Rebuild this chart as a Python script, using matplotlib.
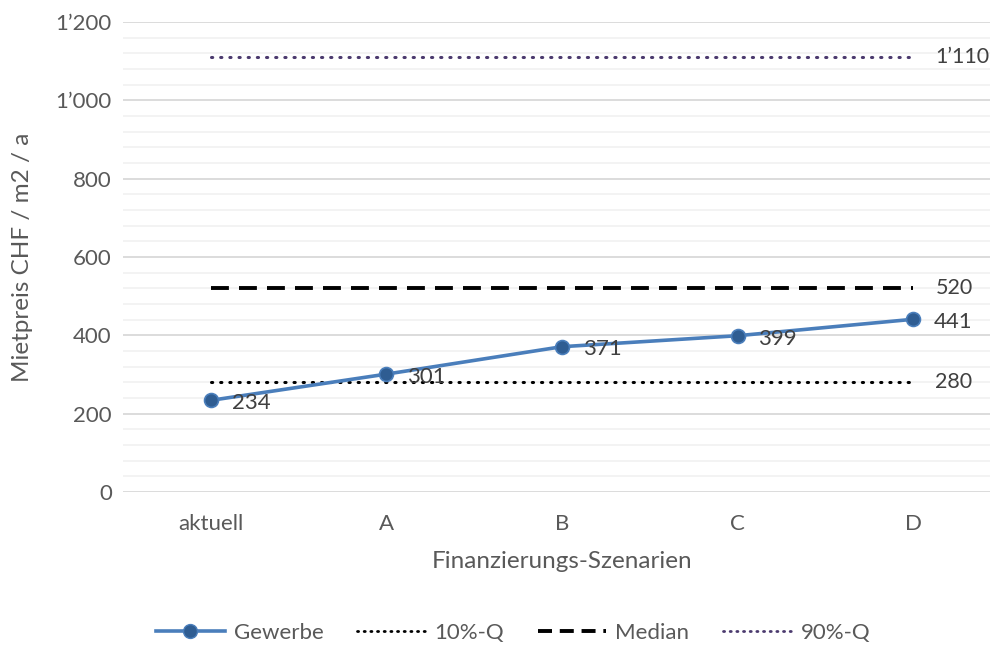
import matplotlib
matplotlib.use("Agg")
import matplotlib.pyplot as plt
from matplotlib.lines import Line2D
from matplotlib.ticker import MultipleLocator, FuncFormatter

# Scenarios and rent values (CHF / m2 / a)
szenarien = ["aktuell", "A", "B", "C", "D"]
gewerbe = [234, 301, 371, 399, 441]
q10 = 280
median = 520
q90 = 1110

text_color = "#595959"
label_color = "#404040"
line_blue = "#4A7EBB"
marker_blue = "#2F5D92"
purple = "#4B3A6E"

dotted = (0, (0.4, 2.6))
dashed = (0, (4.6, 2.6))

plt.rcParams["font.family"] = ["Lato", "DejaVu Sans"]

fig = plt.figure(figsize=(9.9, 6.48), dpi=100)
ax = fig.add_axes([123 / 990, (648 - 492) / 648, 878 / 990, 470 / 648])

x = list(range(len(szenarien)))

# reference lines spanning the category range
ax.plot([x[0], x[-1]], [q10, q10], color="black", lw=2.2,
        linestyle=dotted, dash_capstyle="round", zorder=3)
ax.plot([x[0], x[-1]], [median, median], color="black", lw=2.8,
        linestyle=dashed, zorder=3)
ax.plot([x[0], x[-1]], [q90, q90], color=purple, lw=2.2,
        linestyle=dotted, dash_capstyle="round", zorder=3)

ax.plot(x, gewerbe, color=line_blue, lw=2.6, marker="o", markersize=10,
        markerfacecolor=marker_blue, markeredgecolor=line_blue,
        markeredgewidth=1.2, zorder=4)

for xi, v in zip(x, gewerbe):
    ax.annotate(f"{v}", (xi, v), xytext=(15, -2), textcoords="offset points",
                ha="left", va="center", fontsize=16, color=label_color, zorder=5)


def chf(v, pos=None):
    v = int(round(v))
    return f"{v:,}".replace(",", "\u2019")


for v in (q90, median, q10):
    ax.annotate(chf(v), (x[-1], v), xytext=(16, 0), textcoords="offset points",
                ha="left", va="center", fontsize=15.5, color=label_color, zorder=5)

ax.set_xlim(-0.5, len(szenarien) - 0.5)
ax.set_ylim(0, 1200)
ax.yaxis.set_major_locator(MultipleLocator(200))
ax.yaxis.set_minor_locator(MultipleLocator(40))
ax.yaxis.set_major_formatter(FuncFormatter(chf))
ax.set_xticks(x)
ax.set_xticklabels(szenarien)

ax.grid(which="major", axis="y", color="#D9D9D9", lw=1.3)
ax.grid(which="minor", axis="y", color="#F2F2F2", lw=1.3)
ax.set_axisbelow(True)
for s in ax.spines.values():
    s.set_visible(False)
ax.tick_params(axis="both", which="both", length=0, colors=text_color,
               labelsize=16)
ax.tick_params(axis="y", pad=8)
ax.tick_params(axis="x", pad=16)

ax.set_xlabel("Finanzierungs-Szenarien", fontsize=17.5, color=text_color,
              labelpad=12)
ax.set_ylabel("Mietpreis CHF / m2 / a", fontsize=17.5, color=text_color)
ax.yaxis.set_label_coords(-90 / 878, 0.5, transform=ax.transAxes)

handles = [
    Line2D([], [], color=line_blue, lw=2.6, marker="o", markersize=10,
           markerfacecolor=marker_blue, markeredgecolor=line_blue),
    Line2D([], [], color="black", lw=2.0, linestyle=(0, (0.4, 2.0)),
           dash_capstyle="round"),
    Line2D([], [], color="black", lw=2.8, linestyle=(0, (3.6, 2.0))),
    Line2D([], [], color=purple, lw=2.0, linestyle=(0, (0.4, 2.0)),
           dash_capstyle="round"),
]
fig.legend(handles, ["Gewerbe", "10%-Q", "Median", "90%-Q"], loc="center",
           bbox_to_anchor=(513 / 990, 1 - 633 / 648), ncol=4, frameon=False,
           fontsize=16, labelcolor=text_color, handlelength=3.1,
           handletextpad=0.4, columnspacing=1.5)

fig.savefig("out.png", dpi=100)
